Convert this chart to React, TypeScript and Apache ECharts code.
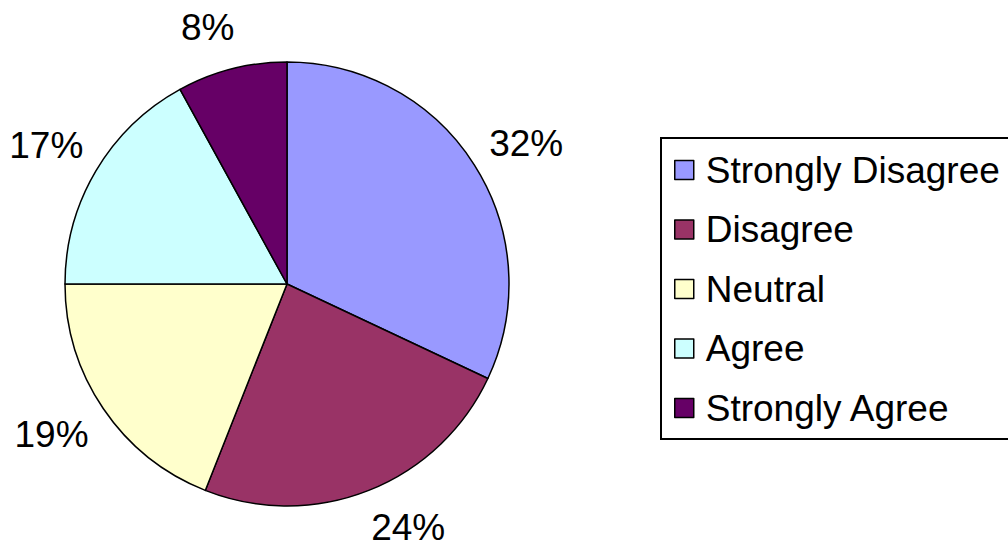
import React, { useEffect, useRef } from "react";
import * as echarts from "echarts";

const categories = ["Strongly Disagree", "Disagree", "Neutral", "Agree", "Strongly Agree"];
const values = [32, 24, 19, 17, 8];
const colors = ["#9999FF", "#993366", "#FFFFCC", "#CCFFFF", "#660066"];
// small nudges of the percentage labels (style only)
const labelNudges = [[7, 7], [20, -12], [-8, -4], [-4, 1], [-11, 10]];

const FONT = "'Liberation Sans', Arial, sans-serif";

export default function App() {
  const ref = useRef<HTMLDivElement>(null);
  useEffect(() => {
    if (!ref.current) return;
    const chart = echarts.init(ref.current, null, { renderer: "svg" });
    const data = categories.map((name, i) => ({
      name,
      value: values[i],
      itemStyle: { color: colors[i] },
    }));
    const labelData = categories.map((name, i) => ({
      name,
      value: values[i],
      label: { offset: labelNudges[i] },
    }));
    chart.setOption({
      animation: false,
      backgroundColor: "#ffffff",
      graphic: [
        {
          type: "rect",
          shape: { x: 661, y: 138, width: 400, height: 301 },
          style: { fill: "none", stroke: "#000", lineWidth: 2 },
          z: 0,
        },
      ],
      legend: {
        orient: "vertical",
        left: 669,
        top: 145,
        itemWidth: 19,
        itemHeight: 19,
        itemGap: 19.5,
        icon: "rect",
        data: categories,
        itemStyle: { borderColor: "#000", borderWidth: 1.5 },
        textStyle: {
          fontFamily: FONT,
          fontSize: 37,
          color: "#000",
          lineHeight: 40,
          padding: [0, 0, 0, 7],
        },
      },
      series: [
        {
          type: "pie",
          center: [287, 284],
          radius: 222,
          startAngle: 90,
          clockwise: true,
          label: { show: false },
          labelLine: { show: false },
          itemStyle: { borderColor: "#000", borderWidth: 1.5 },
          emphasis: { disabled: true },
          data,
        },
        {
          type: "pie",
          center: [287, 284],
          radius: [262, 282],
          startAngle: 90,
          clockwise: true,
          silent: true,
          legendHoverLink: false,
          itemStyle: { color: "rgba(0,0,0,0)", borderWidth: 0 },
          label: {
            show: true,
            position: "inside",
            formatter: "{c}%",
            fontFamily: FONT,
            fontSize: 37,
            color: "#000",
          },
          labelLine: { show: false },
          emphasis: { disabled: true },
          data: labelData,
        },
      ],
    });
    return () => chart.dispose();
  }, []);
  return (
    <div
      ref={ref}
      style={{ position: "fixed", left: 0, top: 0, width: 1008, height: 549 }}
    />
  );
}
